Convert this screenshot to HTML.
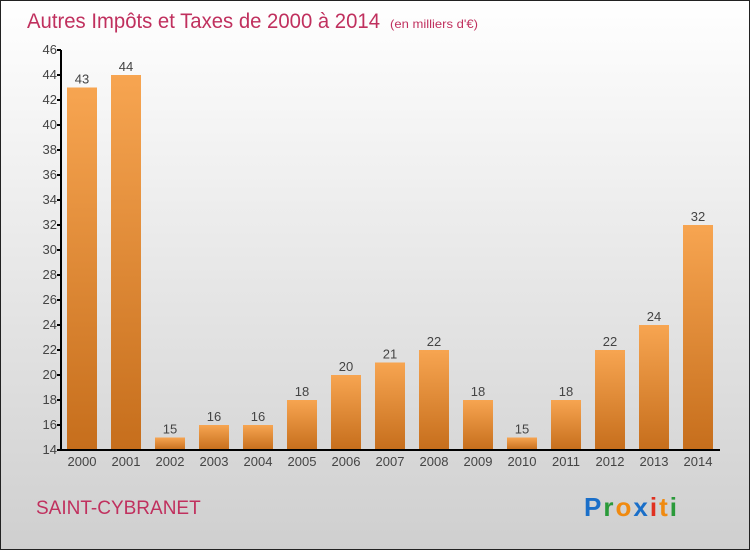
<!DOCTYPE html>
<html><head><meta charset="utf-8"><style>
body{margin:0;}
svg{display:block;font-family:"Liberation Sans",sans-serif;}
</style></head><body>
<svg id="c" width="750" height="550" viewBox="0 0 750 550">
<defs>
<linearGradient id="bg" x1="0" y1="0" x2="0" y2="1"><stop offset="0" stop-color="#ffffff"/><stop offset="1" stop-color="#cfcfcf"/></linearGradient>
<linearGradient id="bar" x1="0" y1="0" x2="0" y2="1"><stop offset="0" stop-color="#f7a551"/><stop offset="1" stop-color="#c66e1c"/></linearGradient>
</defs>
<rect x="0.5" y="0.5" width="749" height="549" fill="url(#bg)" stroke="#222"/>
<text x="27" y="28" font-size="21" fill="#c0305e" textLength="353" lengthAdjust="spacingAndGlyphs">Autres Impôts et Taxes de 2000 à 2014</text>
<text x="390" y="28" font-size="12" fill="#c0305e" textLength="88" lengthAdjust="spacingAndGlyphs">(en milliers d'€)</text>
<text x="36" y="514" font-size="19" fill="#c0305e">SAINT-CYBRANET</text>
<g font-size="26" font-weight="bold">
<text x="584" y="516" letter-spacing="2"><tspan fill="#1a6fc9">P</tspan><tspan fill="#2a9a3a">r</tspan><tspan fill="#f08a10">o</tspan><tspan fill="#1a6fc9">x</tspan><tspan fill="#e03020">i</tspan><tspan fill="#f08a10">t</tspan><tspan fill="#2a9a3a">i</tspan></text>
</g>
<g id="plot"></g>
</svg>
<script>
const years=["2000","2001","2002","2003","2004","2005","2006","2007","2008","2009","2010","2011","2012","2013","2014"];
const values=[43,44,15,16,16,18,20,21,22,18,15,18,22,24,32];
const yTicks=[14,16,18,20,22,24,26,28,30,32,34,36,38,40,42,44,46];
const NS="http://www.w3.org/2000/svg";
const g=document.getElementById('plot');
const yMin=14,yMax=46,y0=450,y1=50;
function y(v){return y0-(v-yMin)/(yMax-yMin)*(y0-y1);}
function x(i){return 82+i*44;}
function mk(t,a,txt){const e=document.createElementNS(NS,t);for(const k in a)e.setAttribute(k,a[k]);if(txt!==undefined)e.textContent=txt;g.appendChild(e);return e;}
values.forEach((v,i)=>{
 const r=mk('rect',{x:x(i)-15,y:y(v),width:30,height:y0-y(v),fill:'url(#bar)'});
 
 
 const l=mk('text',{x:x(i),y:y(v)-4,'text-anchor':'middle','font-size':13,fill:'#444'},String(v));
 
 
 const xl=mk('text',{x:x(i),y:466,'text-anchor':'middle','font-size':13,fill:'#444'},years[i]);
 
 
});
const ax=mk('path',{d:'M61 50V450H720',stroke:'#000','stroke-width':2,fill:'none'});


yTicks.forEach(t=>{
 const tk=mk('line',{x1:57,x2:61,y1:y(t),y2:y(t),stroke:'#000','stroke-width':2});
 
 
 const tl=mk('text',{x:57,y:y(t)+4,'text-anchor':'end','font-size':13,fill:'#444'},String(t));
 
 
});
</script>
</body></html>
